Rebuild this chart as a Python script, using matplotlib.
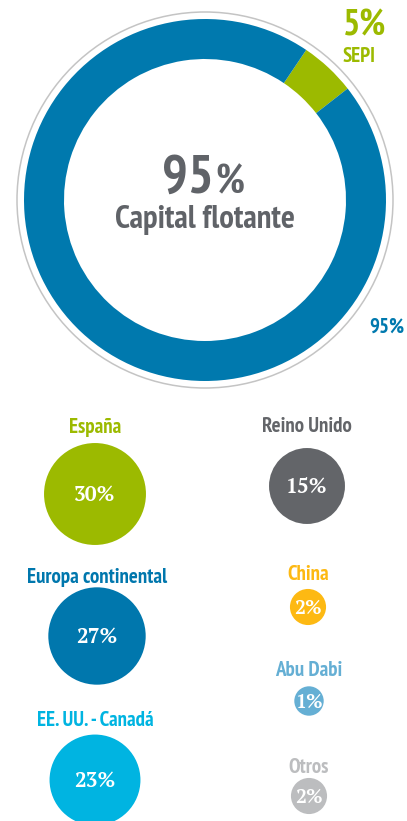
import numpy as np
import matplotlib.pyplot as plt
from matplotlib.patches import Circle

# --- data ---
holder_labels = ['SEPI', 'Capital flotante']
holder_values = [5, 95]

region_names = ['España', 'Reino Unido', 'Europa continental', 'China',
                'EE. UU. - Canadá', 'Abu Dabi', 'Otros']
region_values = [30, 15, 27, 2, 23, 1, 2]

# --- style / layout ---
W, H = 407, 821
GREEN = '#9cba00'
BLUE = '#0079ae'
GREY = '#606368'
region_colors = ['#9cba00', '#636569', '#0077ad', '#fdb913',
                 '#00b4e1', '#65afd4', '#bcbdbf']
# (x, label baseline y, bubble centre y) in pixel coords from the top
slots = [(95, 433, 494), (307, 432, 486), (97, 583, 636), (308, 580, 607),
         (95, 726, 780), (309, 676, 701), (309, 773, 796)]

SANS = ['PT Sans Narrow', 'DejaVu Sans']
SERIF = ['PT Serif', 'DejaVu Serif']


def fy(y):
    # pixel row (top origin) -> data y (bottom origin)
    return H - y


fig = plt.figure(figsize=(W / 100, H / 100), dpi=100)
ax = fig.add_axes([0, 0, 1, 1])

# donut
cx, cy = 205, fy(200)
ax.pie(holder_values, colors=[GREEN, BLUE], startangle=38, counterclock=True,
       center=(cx, cy), radius=181,
       wedgeprops=dict(width=40, linewidth=0))
ax.add_patch(Circle((cx, cy), 188, fill=False, edgecolor='#c4c4c4', lw=1.1))

ax.text(214, fy(193), f'{holder_values[1]}', ha='right', va='baseline',
        family=SANS, weight='bold', fontsize=39, color=GREY)
ax.text(215, fy(193), '%', ha='left', va='baseline',
        family=SANS, weight='bold', fontsize=29, color=GREY)
ax.text(205, fy(228), holder_labels[1], ha='center', va='baseline',
        family=SANS, weight='bold', fontsize=23.5, color=GREY)

ax.text(343, fy(35), f'{holder_values[0]}%', ha='left', va='baseline',
        family=SANS, weight='bold', fontsize=26, color=GREEN)
ax.text(343, fy(62), holder_labels[0], ha='left', va='baseline',
        family=SANS, weight='bold', fontsize=15, color=GREEN)
ax.text(404, fy(333), f'{holder_values[1]}%', ha='right', va='baseline',
        family=SANS, weight='bold', fontsize=15, color=BLUE)

# regional bubbles, radius on a sqrt scale
for name, val, col, (x, ly, by) in zip(region_names, region_values,
                                       region_colors, slots):
    r = 6.6 + 8.1 * np.sqrt(val)
    ax.add_patch(Circle((x, fy(by)), r, facecolor=col, edgecolor='none'))
    ax.text(x, fy(ly), name, ha='center', va='baseline',
            family=SANS, weight='bold', fontsize=15, color=col)
    ax.text(x, fy(by) - 1, f'{val}%', ha='center', va='center',
            family=SERIF, weight='bold', fontsize=15 if r > 30 else 14,
            color='white')

ax.set_xlim(0, W)
ax.set_ylim(0, H)
ax.set_aspect('equal')
ax.axis('off')

fig.savefig('out.png', dpi=100)
